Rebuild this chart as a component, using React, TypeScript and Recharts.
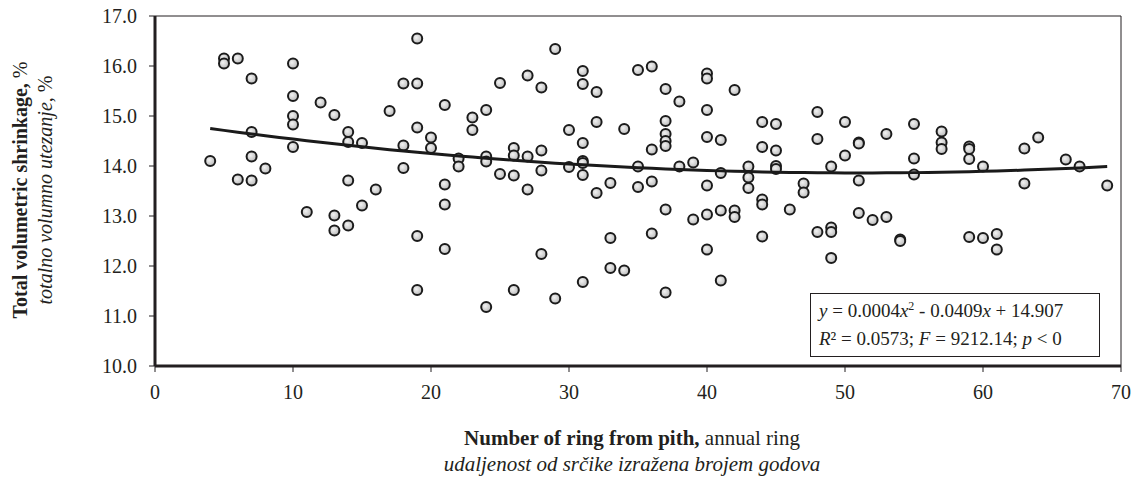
import React from 'react';
import {
  ScatterChart,
  Scatter,
  XAxis,
  YAxis,
  ReferenceLine,
} from 'recharts';

// ring number from pith / total volumetric shrinkage (%)
const ringX = [
  4, 5, 5, 6, 6, 7, 7, 7, 7, 8,
  10, 10, 10, 10, 10, 11, 12, 13, 13, 13,
  14, 14, 14, 14, 15, 15, 16, 17, 18, 18,
  18, 19, 19, 19, 19, 19, 20, 20, 21, 21,
  21, 21, 22, 22, 23, 23, 24, 24, 24, 24,
  25, 25, 26, 26, 26, 26, 27, 27, 27, 28,
  28, 28, 28, 29, 29, 30, 30, 31, 31, 31,
  31, 31, 31, 31, 32, 32, 32, 33, 33, 33,
  34, 34, 35, 35, 35, 36, 36, 36, 36, 37,
  37, 37, 37, 37, 37, 37, 38, 38, 39, 39,
  40, 40, 40, 40, 40, 40, 40, 41, 41, 41,
  41, 42, 42, 42, 43, 43, 43, 44, 44, 44,
  44, 44, 45, 45, 45, 45, 46, 47, 47, 48,
  48, 48, 49, 49, 49, 49, 50, 50, 51, 51,
  51, 51, 52, 53, 53, 54, 54, 55, 55, 55,
  57, 57, 57, 59, 59, 59, 59, 60, 60, 61,
  61, 63, 63, 64, 66, 67, 69,
];

const shrinkage = [
  14.1, 16.15, 16.05, 16.15, 13.73, 15.75, 14.68, 14.19, 13.71, 13.95,
  16.05, 15.4, 15.0, 14.83, 14.38, 13.08, 15.27, 15.02, 13.01, 12.71,
  14.68, 14.48, 13.71, 12.81, 14.46, 13.21, 13.53, 15.1, 15.65, 14.41,
  13.96, 16.55, 15.65, 14.77, 12.6, 11.52, 14.57, 14.36, 15.22, 13.63,
  13.23, 12.34, 14.15, 13.99, 14.97, 14.72, 15.12, 14.19, 14.09, 11.18,
  15.66, 13.84, 14.36, 14.21, 13.81, 11.52, 15.81, 14.19, 13.53, 15.57,
  14.31, 13.91, 12.24, 16.34, 11.35, 14.72, 13.98, 15.9, 15.64, 14.46,
  14.1, 14.06, 13.82, 11.68, 15.48, 14.88, 13.46, 13.66, 12.56, 11.96,
  14.74, 11.91, 15.92, 13.99, 13.58, 15.99, 14.33, 13.69, 12.65, 15.54,
  14.9, 14.64, 14.5, 14.4, 13.13, 11.47, 15.29, 13.99, 14.07, 12.93,
  15.85, 15.75, 15.12, 14.58, 13.61, 13.03, 12.33, 14.52, 13.86, 13.11,
  11.71, 15.52, 13.11, 12.98, 13.99, 13.77, 13.56, 14.88, 14.38, 13.33,
  13.23, 12.59, 14.84, 14.31, 14.0, 13.94, 13.13, 13.65, 13.47, 15.08,
  14.54, 12.68, 13.99, 12.77, 12.68, 12.16, 14.88, 14.21, 14.47, 14.45,
  13.71, 13.06, 12.92, 14.64, 12.98, 12.53, 12.5, 14.84, 14.15, 13.83,
  14.69, 14.47, 14.34, 14.39, 14.34, 14.14, 12.58, 13.99, 12.56, 12.64,
  12.33, 14.35, 13.65, 14.57, 14.13, 13.99, 13.61,
];

const xTicks = [0, 10, 20, 30, 40, 50, 60, 70];
const yTicks = [10, 11, 12, 13, 14, 15, 16, 17];

// fitted polynomial: y = 0.0004x^2 - 0.0409x + 14.907
const fitA = 0.0004;
const fitB = -0.0409;
const fitC = 14.907;
const fitFrom = 4;
const fitTo = 69;

const points = ringX.map((x, i) => ({ x, y: shrinkage[i] }));

const trend: { x: number; y: number }[] = [];
for (let x = fitFrom; x <= fitTo; x += 1) {
  trend.push({ x, y: fitA * x * x + fitB * x + fitC });
}

const SERIF = '"Liberation Serif", "Times New Roman", serif';
const INK = '#231f20';

const Dot = (props: any) => {
  const { cx, cy } = props;
  if (cx == null || cy == null) return null;
  return (
    <circle
      cx={cx}
      cy={cy}
      r={5}
      fill="url(#dotFill)"
      stroke="#1b1b1b"
      strokeWidth={2}
    />
  );
};

const YTitle = () => {
  const cy = 190;
  return (
    <g fill={INK}>
      <text
        x={20}
        y={cy}
        transform={`rotate(-90 20 ${cy})`}
        textAnchor="middle"
        dominantBaseline="central"
        fontFamily={SERIF}
        fontSize={20}
      >
        <tspan fontWeight="bold">Total volumetric shrinkage,</tspan>
        <tspan> %</tspan>
      </text>
      <text
        x={45}
        y={cy}
        transform={`rotate(-90 45 ${cy})`}
        textAnchor="middle"
        dominantBaseline="central"
        fontFamily={SERIF}
        fontSize={20}
      >
        <tspan fontStyle="italic">totalno volumno utezanje,</tspan>
        <tspan> %</tspan>
      </text>
    </g>
  );
};

const XTitle = () => {
  const cx = 632;
  return (
    <g fill={INK}>
      <text
        x={cx}
        y={438}
        textAnchor="middle"
        dominantBaseline="central"
        fontFamily={SERIF}
        fontSize={21}
      >
        <tspan fontWeight="bold">Number of ring from pith,</tspan>
        <tspan> annual ring</tspan>
      </text>
      <text
        x={cx}
        y={464}
        textAnchor="middle"
        dominantBaseline="central"
        fontFamily={SERIF}
        fontSize={21}
        fontStyle="italic"
      >
        udaljenost od srčike izražena brojem godova
      </text>
    </g>
  );
};

export default function App() {
  return (
    <div
      style={{
        position: 'absolute',
        left: 0,
        top: 0,
        width: 1136,
        height: 477,
        background: '#fff',
      }}
    >
      <svg width={0} height={0} style={{ position: 'absolute' }}>
        <defs>
          <radialGradient id="dotFill" cx="40%" cy="40%" r="65%">
            <stop offset="0%" stopColor="#f2f2f2" />
            <stop offset="100%" stopColor="#b8b8b8" />
          </radialGradient>
        </defs>
      </svg>
      <ScatterChart
        width={1136}
        height={477}
        margin={{ top: 16, right: 15, left: 0, bottom: 81 }}
      >
        <XAxis
          type="number"
          dataKey="x"
          domain={[0, 70]}
          ticks={xTicks}
          allowDataOverflow
          height={30}
          axisLine={{ stroke: INK, strokeWidth: 3 }}
          tickLine={{ stroke: INK, strokeWidth: 1 }}
          tickSize={6}
          tickMargin={13}
          tick={{ fill: INK, fontSize: 20, fontFamily: SERIF }}
          label={<XTitle />}
        />
        <YAxis
          type="number"
          dataKey="y"
          domain={[10, 17]}
          ticks={yTicks}
          allowDataOverflow
          width={155}
          axisLine={{ stroke: INK, strokeWidth: 3 }}
          tickLine={{ stroke: INK, strokeWidth: 1 }}
          tickSize={6}
          tickMargin={12}
          tickFormatter={(v: number) => v.toFixed(1)}
          tick={{ fill: INK, fontSize: 20, fontFamily: SERIF }}
          label={<YTitle />}
        />
        <ReferenceLine y={17} stroke={INK} strokeWidth={1} />
        <ReferenceLine x={70} stroke={INK} strokeWidth={1} />
        <Scatter data={points} shape={<Dot />} isAnimationActive={false} />
        <Scatter
          data={trend}
          line={{ stroke: '#1a1a1a', strokeWidth: 3 }}
          lineType="joint"
          shape={() => null}
          isAnimationActive={false}
        />
      </ScatterChart>
      <div
        style={{
          position: 'absolute',
          left: 810,
          top: 293,
          width: 290,
          height: 64,
          border: `1px solid ${INK}`,
          background: '#fff',
          fontFamily: SERIF,
          fontSize: 19,
          color: INK,
          lineHeight: '28px',
          padding: '3px 0 0 8px',
          boxSizing: 'border-box',
          whiteSpace: 'nowrap',
        }}
      >
        <div>
          <i>y</i> = 0.0004<i>x</i>
          <sup style={{ fontSize: 12, lineHeight: 0 }}>2</sup> - 0.0409<i>x</i> + 14.907
        </div>
        <div>
          <i>R</i>² = 0.0573; <i>F</i> = 9212.14; <i>p</i> &lt; 0
        </div>
      </div>
    </div>
  );
}
